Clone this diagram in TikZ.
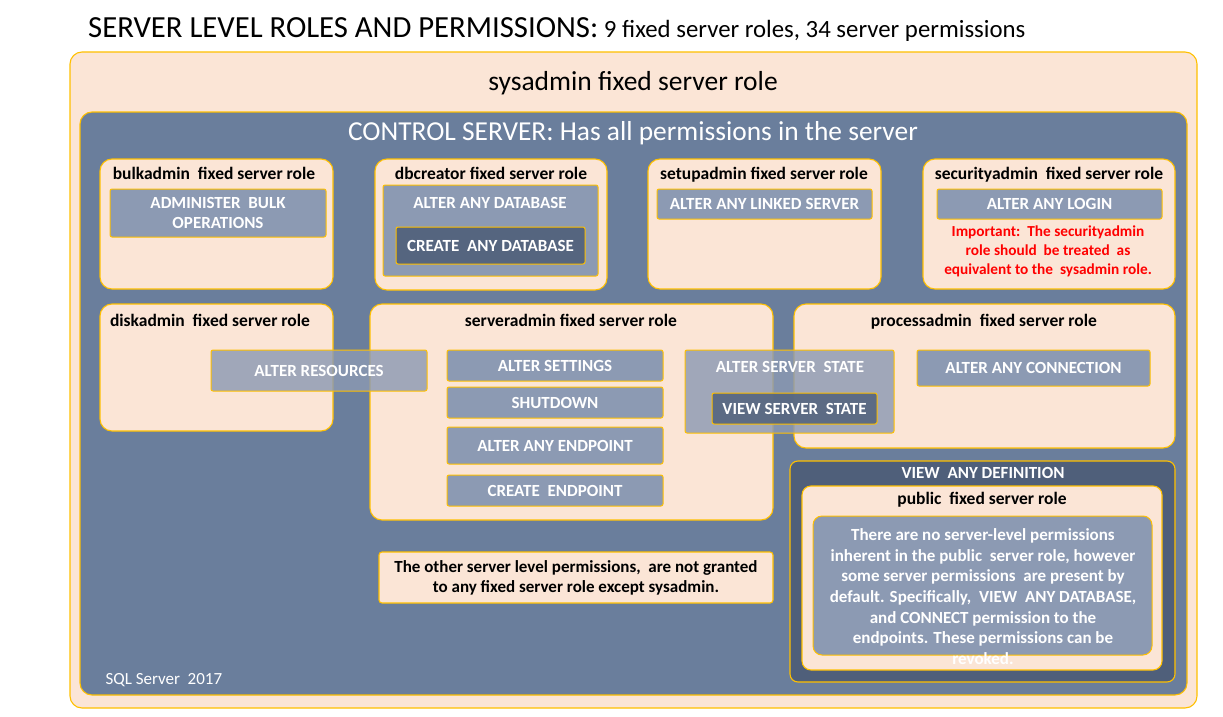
\documentclass[tikz,border=0pt]{standalone}
\usepackage{fontspec}
\setmainfont{Carlito}
\usetikzlibrary{positioning}
\definecolor{peach}{HTML}{FBE5D6}
\definecolor{gold}{HTML}{FFC000}
\definecolor{slate}{HTML}{6A7E9C}
\definecolor{permblue}{HTML}{8C9AB3}
\definecolor{permdark}{HTML}{55657F}
\definecolor{defblue}{HTML}{4F5F7A}
\definecolor{warnred}{HTML}{FF0000}
\begin{document}
\begin{tikzpicture}[x=1pt, y=-1pt,
    box/.style={draw=gold, line width=1.1pt, anchor=north west, outer sep=0pt, inner sep=0pt},
    role/.style={box, fill=peach, rounded corners=12pt},
    roletitle/.style={anchor=base, font=\bfseries\fontsize{17.5}{20}\selectfont},
    perm/.style={box, line width=1pt, fill=permblue, rounded corners=2pt, text=white,
        font=\bfseries\fontsize{17}{20}\selectfont, align=center},
    permlabel/.style={anchor=base, text=white, font=\bfseries\fontsize{17}{20}\selectfont},
    dark/.style={perm, fill=permdark}]
    \useasboundingbox (0,0) rectangle (1223,717);
    % Title
    \node[anchor=base west, inner sep=0pt] (title) at (88,38)
        {\fontsize{30.7}{34}\selectfont SERVER LEVEL ROLES AND PERMISSIONS:\fontsize{24.8}{28}\selectfont\ 9 fixed server roles, 34 server permissions};
    % sysadmin and control server
    \node[role, minimum width=1127, minimum height=656] (sysadmin) at (70,52) {};
    \node[font=\fontsize{27.5}{30}\selectfont] (sysadminlabel) at (633,83) {sysadmin fixed server role};
    \node[box, fill=slate, rounded corners=12pt, minimum width=1107, minimum height=583] (control) at (80,112) {};
    \node[text=white, font=\fontsize{27.4}{30}\selectfont] (controllabel) at (633,133) {CONTROL SERVER: Has all permissions in the server};

    % Top row
    \node[role, minimum width=233, minimum height=130] (bulkadmin) at (100,159) {};
    \node[roletitle] (bulkadminlabel) at (214,179) {bulkadmin\ \ fixed server role};
    \node[perm, minimum width=216, minimum height=48] (adminbulk) at (110,189) {ADMINISTER\ \ BULK\\OPERATIONS};

    \node[role, minimum width=232, minimum height=131] (dbcreator) at (375,159) {};
    \node[roletitle] (dbcreatorlabel) at (491,179) {dbcreator fixed server role};
    \node[perm, minimum width=215, minimum height=91] (alterdb) at (383,185) {};
    \node[permlabel] (alterdblabel) at (490,208) {ALTER ANY DATABASE};
    \node[dark, minimum width=189, minimum height=37] (createdb) at (396,227) {CREATE\ \ ANY DATABASE};

    \node[role, minimum width=233, minimum height=130] (setupadmin) at (648,159) {};
    \node[roletitle] (setupadminlabel) at (764,179) {setupadmin fixed server role};
    \node[perm, minimum width=215, minimum height=30] (linked) at (657,189) {ALTER ANY LINKED SERVER};

    \node[role, minimum width=252, minimum height=130] (securityadmin) at (923,159) {};
    \node[roletitle] (securityadminlabel) at (1049,179) {securityadmin\ \ fixed server role};
    \node[perm, minimum width=225, minimum height=30] (login) at (937,189) {ALTER ANY LOGIN};
    \node[text=warnred, align=center, font=\bfseries\fontsize{15.3}{19}\selectfont] (warning) at (1048,251)
        {Important:\ \ The securityadmin\\role should\ \ be treated\ \ as\\equivalent to the\ \ sysadmin role.};

    % Middle row
    \node[role, minimum width=233, minimum height=127] (diskadmin) at (100,304) {};
    \node[roletitle] (diskadminlabel) at (210,326) {diskadmin\ \ fixed server role};
    \node[role, minimum width=403, minimum height=216] (serveradmin) at (370,304) {};
    \node[roletitle] (serveradminlabel) at (571,326) {serveradmin fixed server role};
    \node[role, minimum width=381, minimum height=144] (processadmin) at (794,304) {};
    \node[roletitle] (processadminlabel) at (984,326) {processadmin\ \ fixed server role};

    \node[perm, fill opacity=0.82, text opacity=1, minimum width=216, minimum height=41] (resources) at (211,350) {ALTER RESOURCES};
    \node[perm, minimum width=216, minimum height=31] (settings) at (447,350) {ALTER SETTINGS};
    \node[perm, minimum width=216, minimum height=31] (shutdown) at (447,387) {SHUTDOWN};
    \node[perm, minimum width=216, minimum height=37] (endpoint) at (447,427) {ALTER ANY ENDPOINT};
    \node[perm, minimum width=216, minimum height=31] (createend) at (447,475) {CREATE\ \ ENDPOINT};
    \node[perm, fill opacity=0.82, text opacity=1, minimum width=209, minimum height=83] (serverstate) at (685,350) {};
    \node[permlabel] (serverstatelabel) at (790,372) {ALTER SERVER\ \ STATE};
    \node[dark, fill opacity=0.9, text opacity=1, minimum width=165, minimum height=31] (viewstate) at (712,393) {VIEW SERVER\ \ STATE};
    \node[perm, minimum width=233, minimum height=36] (connection) at (917,350) {ALTER ANY CONNECTION};

    % Bottom row
    \node[box, fill=defblue, rounded corners=8pt, minimum width=385, minimum height=221] (viewdef) at (790,461) {};
    \node[permlabel] (viewdeflabel) at (983,478) {VIEW\ \ ANY DEFINITION};
    \node[role, rounded corners=9pt, minimum width=360, minimum height=184] (public) at (802,486) {};
    \node[roletitle] (publiclabel) at (982,504) {public\ \ fixed server role};
    \node[perm, rounded corners=9pt, minimum width=339, minimum height=139] (publicbox) at (813,516) {};
    \node[anchor=north, text=white, align=center, font=\bfseries\fontsize{17}{20.7}\selectfont] (publictext) at (983,525)
        {There are no server-level permissions\\inherent in the public\ \ server role, however\\some server permissions\ \ are present by\\default. Specifically,\ \ VIEW\ \ ANY DATABASE,\\and CONNECT permission to the\\endpoints. These permissions can be\\revoked.};

    \node[box, fill=peach, rounded corners=3pt, minimum width=394, minimum height=51, align=center,
        font=\bfseries\fontsize{17}{20}\selectfont] (others) at (379,552)
        {The other server level permissions,\ \ are not granted\\to any fixed server role except sysadmin.};
    \node[anchor=west, text=white, font=\fontsize{17}{20}\selectfont] (version) at (102,680) {SQL Server\ \ 2017};
\end{tikzpicture}
\end{document}
